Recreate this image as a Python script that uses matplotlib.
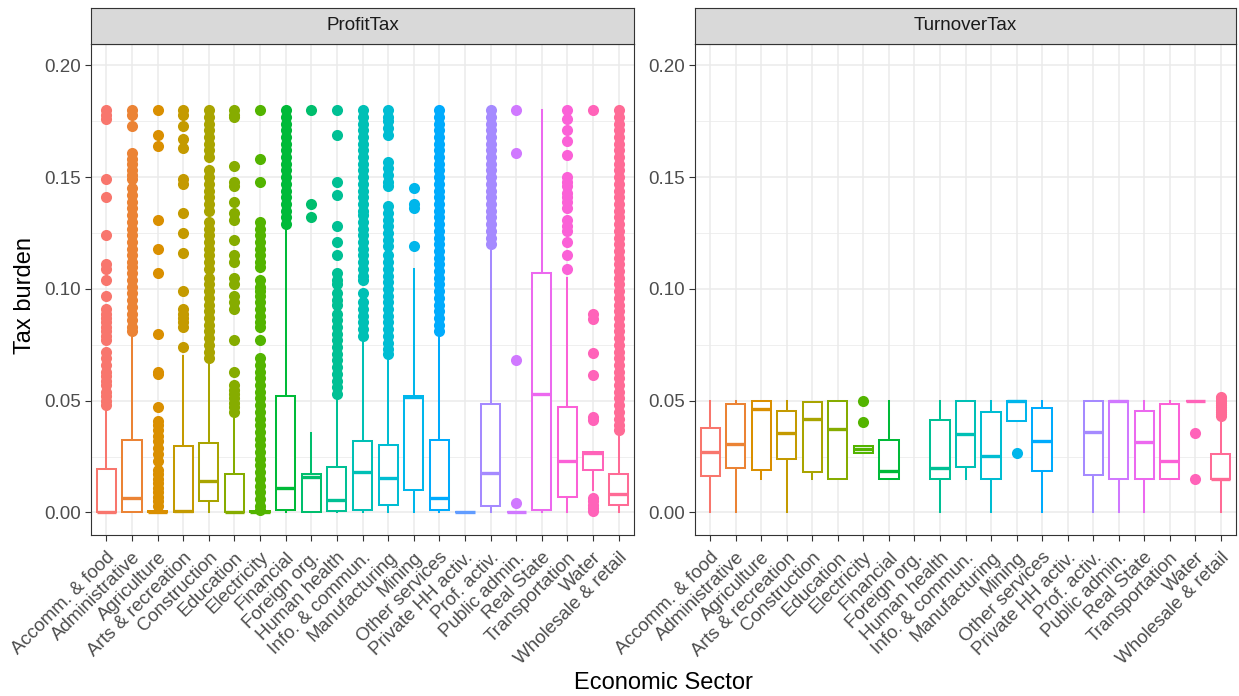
import numpy as np
import matplotlib
matplotlib.use("Agg")
import matplotlib.pyplot as plt
from matplotlib.ticker import MultipleLocator

plt.rcParams['font.family'] = ['Liberation Sans', 'DejaVu Sans']

sectors = ["Accomm. & food", "Administrative", "Agriculture", "Arts & recreation",
           "Construction", "Education", "Electricity", "Financial", "Foreign org.",
           "Human health", "Info. & commun.", "Manufacturing", "Mining",
           "Other services", "Private HH activ.", "Prof. activ.", "Public admin.",
           "Real State", "Transportation", "Water", "Wholesale & retail"]

# ProfitTax box stats, one value per sector
profit_lo = [0.0, 0.0, 0.0, 0.0, 0.0, 0.0, 0.0, 0.0, 0.0, 0.0, 0.0,
             0.0, 0.0, 0.0, 0.0, 0.0, 0.0, 0.0, 0.0, 0.010, 0.0]
profit_q1 = [0.0, 0.0, 0.0, 0.0, 0.005, 0.0, 0.0, 0.001, 0.0, 0.0007, 0.001,
             0.0034, 0.010, 0.001, 0.0, 0.0028, 0.0, 0.001, 0.0067, 0.0188, 0.0035]
profit_med = [0.0004, 0.0064, 0.0, 0.0006, 0.014, 0.0003, 0.0, 0.011, 0.016, 0.0056, 0.018,
              0.0156, 0.0515, 0.0064, 0.0, 0.0175, 0.0, 0.053, 0.023, 0.0266, 0.0083]
profit_q3 = [0.0195, 0.0325, 0.0005, 0.0296, 0.031, 0.017, 0.0005, 0.052, 0.017, 0.0205, 0.032,
             0.030, 0.052, 0.0325, 0.0, 0.0484, 0.0, 0.107, 0.047, 0.027, 0.017]
profit_hi = [0.047, 0.080, 0.001, 0.070, 0.068, 0.044, 0.001, 0.128, 0.0355, 0.051, 0.077,
             0.070, 0.109, 0.079, 0.0, 0.117, 0.0, 0.180, 0.105, 0.027, 0.0355]
profit_out = [
    [0.180, 0.178, 0.176, 0.149, 0.141, 0.124, 0.111, 0.109, 0.104, 0.097, 0.091, 0.089,
     0.087, 0.085, 0.083, 0.081, 0.079, 0.077, 0.072, 0.069, 0.066, 0.063, 0.061, 0.059,
     0.057, 0.054, 0.052, 0.050, 0.048],
    [0.180, 0.178, 0.173, 0.161, 0.158, 0.156, 0.153, 0.151, 0.149, 0.145, 0.142, 0.139,
     0.136, 0.133, 0.130, 0.127, 0.124, 0.121, 0.118, 0.115, 0.112, 0.110, 0.107, 0.104,
     0.101, 0.098, 0.095, 0.092, 0.089, 0.086, 0.083, 0.081],
    [0.180, 0.169, 0.164, 0.131, 0.118, 0.107, 0.080, 0.063, 0.062, 0.047, 0.041, 0.039,
     0.037, 0.034, 0.032, 0.029, 0.026, 0.023, 0.019, 0.017, 0.015, 0.013, 0.011, 0.009,
     0.007, 0.005, 0.003],
    [0.180, 0.178, 0.173, 0.167, 0.163, 0.149, 0.147, 0.134, 0.125, 0.116, 0.099, 0.091,
     0.089, 0.087, 0.085, 0.083, 0.074],
    [0.180, 0.177, 0.174, 0.171, 0.168, 0.165, 0.162, 0.159, 0.153, 0.150, 0.147, 0.144,
     0.141, 0.138, 0.135, 0.130, 0.127, 0.124, 0.121, 0.118, 0.115, 0.112, 0.109, 0.105,
     0.102, 0.099, 0.096, 0.093, 0.090, 0.087, 0.084, 0.081, 0.078, 0.075, 0.072, 0.069],
    [0.180, 0.178, 0.177, 0.155, 0.148, 0.146, 0.139, 0.134, 0.131, 0.122, 0.115, 0.112,
     0.105, 0.102, 0.097, 0.094, 0.091, 0.077, 0.063, 0.057, 0.055, 0.053, 0.051, 0.049,
     0.047, 0.045],
    [0.180, 0.158, 0.148, 0.130, 0.127, 0.124, 0.121, 0.118, 0.115, 0.112, 0.110, 0.104,
     0.101, 0.099, 0.097, 0.094, 0.091, 0.088, 0.085, 0.083, 0.077, 0.069, 0.066, 0.063,
     0.060, 0.057, 0.054, 0.051, 0.048, 0.045, 0.042, 0.039, 0.036, 0.033, 0.030, 0.027,
     0.024, 0.021, 0.018, 0.015, 0.012, 0.009, 0.006, 0.003, 0.001],
    [0.180, 0.177, 0.174, 0.171, 0.168, 0.165, 0.162, 0.159, 0.156, 0.153, 0.150, 0.147,
     0.144, 0.141, 0.138, 0.135, 0.132, 0.129],
    [0.180, 0.138, 0.132],
    [0.180, 0.169, 0.148, 0.142, 0.128, 0.121, 0.115, 0.107, 0.104, 0.102, 0.098, 0.095,
     0.093, 0.089, 0.086, 0.083, 0.080, 0.077, 0.074, 0.071, 0.068, 0.065, 0.062, 0.059,
     0.056, 0.053],
    [0.180, 0.177, 0.174, 0.171, 0.168, 0.165, 0.162, 0.159, 0.156, 0.153, 0.150, 0.147,
     0.144, 0.141, 0.138, 0.135, 0.133, 0.130, 0.127, 0.124, 0.121, 0.118, 0.115, 0.112,
     0.109, 0.106, 0.104, 0.098, 0.094, 0.091, 0.088, 0.085, 0.082, 0.079],
    [0.180, 0.177, 0.175, 0.172, 0.169, 0.157, 0.154, 0.151, 0.148, 0.146, 0.137, 0.134,
     0.131, 0.128, 0.125, 0.122, 0.119, 0.115, 0.112, 0.109, 0.106, 0.103, 0.100, 0.097,
     0.094, 0.091, 0.088, 0.085, 0.082, 0.079, 0.076, 0.073, 0.071],
    [0.145, 0.138, 0.136, 0.119],
    [0.180, 0.177, 0.174, 0.171, 0.168, 0.165, 0.162, 0.159, 0.156, 0.153, 0.150, 0.147,
     0.144, 0.141, 0.138, 0.135, 0.132, 0.129, 0.126, 0.123, 0.120, 0.117, 0.114, 0.111,
     0.108, 0.105, 0.102, 0.099, 0.096, 0.093, 0.090, 0.087, 0.084, 0.081],
    [],
    [0.180, 0.177, 0.174, 0.171, 0.168, 0.165, 0.162, 0.159, 0.156, 0.153, 0.150, 0.147,
     0.144, 0.141, 0.138, 0.135, 0.132, 0.129, 0.126, 0.123, 0.120],
    [0.180, 0.161, 0.068, 0.004],
    [],
    [0.180, 0.176, 0.171, 0.166, 0.160, 0.150, 0.148, 0.146, 0.143, 0.141, 0.139, 0.136,
     0.131, 0.128, 0.126, 0.121, 0.115, 0.109],
    [0.180, 0.0887, 0.0865, 0.0715, 0.0615, 0.0429, 0.0414, 0.0065, 0.0050, 0.0035,
     0.0020, 0.0005],
    [0.180, 0.177, 0.174, 0.171, 0.168, 0.165, 0.162, 0.159, 0.156, 0.153, 0.150, 0.147,
     0.144, 0.141, 0.138, 0.135, 0.132, 0.129, 0.126, 0.123, 0.120, 0.117, 0.114, 0.111,
     0.108, 0.105, 0.102, 0.099, 0.096, 0.093, 0.090, 0.087, 0.084, 0.081, 0.078, 0.075,
     0.072, 0.069, 0.066, 0.063, 0.060, 0.057, 0.054, 0.051, 0.048, 0.045, 0.042, 0.039,
     0.037],
]

# TurnoverTax box stats (None = no data for that sector)
turn_lo = [0.0, 0.0, 0.0149, 0.0, 0.0149, 0.0149, 0.0264, 0.0149, None, 0.0, 0.0149,
           0.0, 0.041, 0.0, None, 0.0, 0.0, 0.0, 0.0149, 0.05, 0.0]
turn_q1 = [0.0164, 0.0197, 0.019, 0.0239, 0.0182, 0.0149, 0.0264, 0.0149, None, 0.0149, 0.0204,
           0.0149, 0.041, 0.0187, None, 0.0167, 0.0149, 0.0149, 0.0149, 0.05, 0.0149]
turn_med = [0.0272, 0.0306, 0.0461, 0.0357, 0.0416, 0.0372, 0.0282, 0.0187, None, 0.0201, 0.0351,
            0.0254, 0.0497, 0.0318, None, 0.0358, 0.0497, 0.0313, 0.023, 0.05, 0.0151]
turn_q3 = [0.0376, 0.0485, 0.05, 0.0454, 0.0496, 0.05, 0.0299, 0.0324, None, 0.0413, 0.05,
           0.0448, 0.05, 0.0469, None, 0.05, 0.05, 0.0454, 0.0485, 0.05, 0.0261]
turn_hi = [0.05, 0.05, 0.05, 0.05, 0.0496, 0.05, 0.0299, 0.05, None, 0.05, 0.05,
           0.05, 0.05, 0.05, None, 0.05, 0.05, 0.05, 0.05, 0.05, 0.042]
turn_out = [[], [], [], [], [], [], [0.050, 0.0403], [], [], [], [], [], [0.0267], [], [],
            [], [], [], [], [0.0354, 0.0149],
            [0.0515, 0.051, 0.050, 0.049, 0.048, 0.047, 0.046, 0.045, 0.044, 0.043]]


def hue_pal(n, h0=15, c=100, l=65):
    # ggplot2 default discrete hue palette (HCL -> sRGB)
    hues = np.linspace(h0, h0 + 360 - 360 / n, n)
    xn, yn, zn = 95.047, 100.0, 108.883
    t = xn + 15 * yn + 3 * zn
    un, vn = 4 * xn / t, 9 * yn / t
    m = np.array([[3.240479, -1.537150, -0.498535],
                  [-0.969256, 1.875992, 0.041556],
                  [0.055648, -0.204043, 1.057311]])
    out = []
    for h in hues:
        hr = np.deg2rad(h)
        U, V = c * np.cos(hr), c * np.sin(hr)
        Y = yn * ((l + 16) / 116) ** 3
        u = U / (13 * l) + un
        v = V / (13 * l) + vn
        X = 9 * Y * u / (4 * v)
        Z = -X / 3 - 5 * Y + 3 * Y / v
        rgb = m @ np.array([X, Y, Z]) / 100
        rgb = np.where(rgb > 0.00304, 1.055 * np.clip(rgb, 0, None) ** (1 / 2.4) - 0.055, 12.92 * rgb)
        out.append(tuple(np.clip(rgb, 0, 1)))
    return out


colors = hue_pal(len(sectors))
W, H = 1239, 696
fig = plt.figure(figsize=(W / 100, H / 100), dpi=100)
FS = 13.5

panel_bottom, panel_top = 535, 44
panels = [(91, 634, "ProfitTax"), (695, 1236, "TurnoverTax")]
axes = []
for left, right, title in panels:
    ax = fig.add_axes([left / W, (H - panel_bottom) / H, (right - left) / W,
                       (panel_bottom - panel_top) / H])
    st = fig.add_axes([left / W, (H - panel_top) / H, (right - left) / W, 36 / H])
    st.set_facecolor('#D9D9D9')
    st.set_xticks([])
    st.set_yticks([])
    for s in st.spines.values():
        s.set_color('#333333')
        s.set_linewidth(0.8)
    st.text(0.5, 0.5, title, ha='center', va='center', fontsize=FS,
            color='#1A1A1A', transform=st.transAxes)
    axes.append(ax)


def draw(ax, lo, q1, med, q3, hi, outl):
    stats, pos, cols = [], [], []
    for i in range(len(sectors)):
        if med[i] is None:
            continue
        stats.append(dict(whislo=lo[i], q1=q1[i], med=med[i], q3=q3[i],
                          whishi=hi[i], fliers=outl[i]))
        pos.append(i + 1)
        cols.append(colors[i])
    art = ax.bxp(stats, positions=pos, widths=0.75, patch_artist=True,
                 showcaps=False, showfliers=True)
    for j, c in enumerate(cols):
        b = art['boxes'][j]
        b.set_facecolor('white')
        b.set_edgecolor(c)
        b.set_linewidth(1.45)
        b.set_zorder(3)
        art['medians'][j].set_color(c)
        art['medians'][j].set_linewidth(2.4)
        art['medians'][j].set_zorder(4)
        for w in art['whiskers'][2 * j:2 * j + 2]:
            w.set_color(c)
            w.set_linewidth(1.45)
        f = art['fliers'][j]
        f.set_marker('o')
        f.set_markersize(8)
        f.set_markerfacecolor(c)
        f.set_markeredgecolor('none')
        f.set_zorder(2)


draw(axes[0], profit_lo, profit_q1, profit_med, profit_q3, profit_hi, profit_out)
draw(axes[1], turn_lo, turn_q1, turn_med, turn_q3, turn_hi, turn_out)

for ax in axes:
    ax.set_xlim(0.4, len(sectors) + 0.6)
    ax.set_ylim(-0.0101, 0.2096)
    ax.set_xticks(range(1, len(sectors) + 1))
    ax.set_xticklabels(sectors, rotation=45, ha='right', va='top',
                       rotation_mode='anchor', fontsize=FS, color='#4D4D4D')
    ax.yaxis.set_minor_locator(MultipleLocator(0.025))
    ax.set_yticks([0, 0.05, 0.10, 0.15, 0.20])
    ax.set_yticklabels(['0.00', '0.05', '0.10', '0.15', '0.20'],
                       fontsize=FS, color='#4D4D4D')
    ax.tick_params(which='major', length=4, width=0.8, color='#333333', pad=3)
    ax.tick_params(axis='x', which='major', pad=6)
    ax.tick_params(which='minor', length=0)
    ax.grid(which='major', color='#EBEBEB', linewidth=1.1)
    ax.grid(which='minor', axis='y', color='#EBEBEB', linewidth=0.55)
    ax.set_axisbelow(True)
    for s in ax.spines.values():
        s.set_color('#333333')
        s.set_linewidth(0.8)
        s.set_zorder(5)

fig.text(25 / W, 1 - 295 / H, "Tax burden", rotation=90, ha='center', va='center',
         fontsize=17, color='black')
fig.text(663 / W, 1 - 683 / H, "Economic Sector", ha='center', va='center',
         fontsize=17, color='black')

fig.savefig("out.png", dpi=100)
